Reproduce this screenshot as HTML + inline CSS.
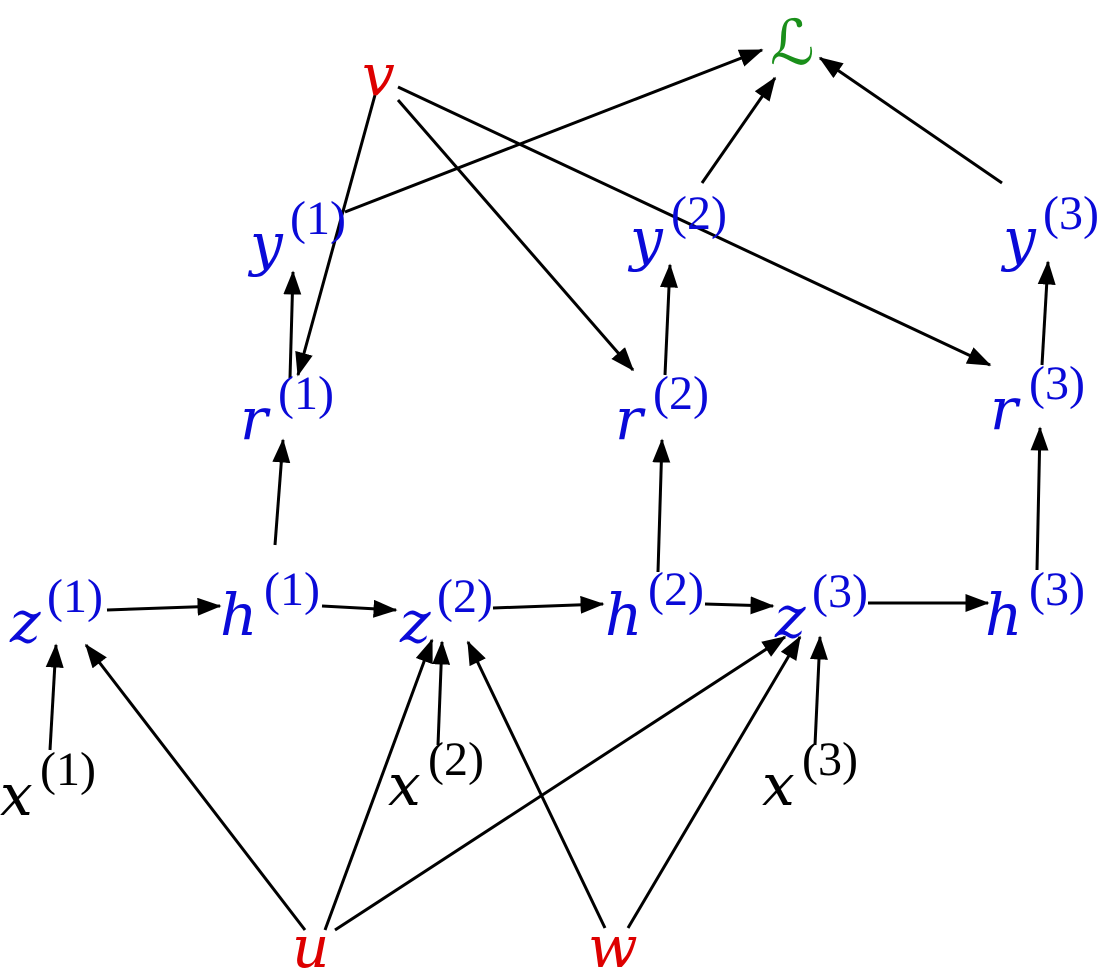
<!DOCTYPE html>
<html><head><meta charset="utf-8"><style>
html,body{margin:0;padding:0;background:#fff;}
svg{display:block;}
.m{font-family:"DejaVu Serif",serif;font-style:italic;font-size:58px;}
.s{font-family:"Liberation Serif",serif;font-size:48px;}
.b{fill:#0a0ad8;} .r{fill:#dd0000;} .k{fill:#000;} .g{fill:#1a8f1a;}
</style></head><body>
<svg width="1099" height="977" viewBox="0 0 1099 977" xmlns="http://www.w3.org/2000/svg">
<defs><marker id="a" markerWidth="8" markerHeight="6" refX="7.5" refY="3" orient="auto" markerUnits="strokeWidth"><path d="M0,0 L8,3 L0,6 Z" fill="#000"/></marker></defs>
<g stroke="#000" stroke-width="3" fill="none" marker-end="url(#a)">
<line x1="375" y1="95" x2="298" y2="375"/>
<line x1="398" y1="100" x2="633" y2="370"/>
<line x1="398" y1="87" x2="990" y2="365"/>
<line x1="345" y1="212" x2="762" y2="50"/>
<line x1="702" y1="183" x2="775" y2="78"/>
<line x1="1002" y1="183" x2="820" y2="58"/>
<line x1="290" y1="378" x2="293" y2="272"/>
<line x1="665" y1="375" x2="670" y2="265"/>
<line x1="1042" y1="365" x2="1048" y2="262"/>
<line x1="275" y1="545" x2="283" y2="440"/>
<line x1="658" y1="572" x2="662" y2="440"/>
<line x1="1037" y1="570" x2="1040" y2="428"/>
<line x1="107" y1="610" x2="220" y2="606"/>
<line x1="322" y1="606" x2="396" y2="610"/>
<line x1="493" y1="608" x2="603" y2="604"/>
<line x1="705" y1="604" x2="773" y2="606"/>
<line x1="868" y1="603" x2="988" y2="603"/>
<line x1="50" y1="750" x2="56" y2="645"/>
<line x1="438" y1="745" x2="442" y2="642"/>
<line x1="815" y1="745" x2="820" y2="637"/>
<line x1="305" y1="930" x2="86" y2="645"/>
<line x1="325" y1="930" x2="432" y2="640"/>
<line x1="335" y1="930" x2="785" y2="637"/>
<line x1="605" y1="928" x2="468" y2="642"/>
<line x1="628" y1="928" x2="800" y2="637"/>
</g>
<text class="m r" x="362" y="95">v</text>
<text class="g" x="770" y="64" style="font-family:'DejaVu Serif',serif;font-size:62px">ℒ</text>
<g class="b">
<text class="m" x="250" y="264">y</text><text class="s" x="290" y="234">(1)</text>
<text class="m" x="630" y="259">y</text><text class="s" x="671" y="229">(2)</text>
<text class="m" x="1003" y="259">y</text><text class="s" x="1043" y="229">(3)</text>
<text class="m" x="240" y="439">r</text><text class="s" x="278" y="409">(1)</text>
<text class="m" x="615" y="439">r</text><text class="s" x="653" y="409">(2)</text>
<text class="m" x="990" y="429">r</text><text class="s" x="1029" y="399">(3)</text>
<text class="m" x="10" y="642">z</text><text class="s" x="47" y="612">(1)</text>
<text class="m" x="220" y="635">h</text><text class="s" x="264" y="605">(1)</text>
<text class="m" x="400" y="642">z</text><text class="s" x="437" y="612">(2)</text>
<text class="m" x="605" y="635">h</text><text class="s" x="648" y="605">(2)</text>
<text class="m" x="775" y="637">z</text><text class="s" x="812" y="607">(3)</text>
<text class="m" x="985" y="635">h</text><text class="s" x="1029" y="605">(3)</text>
</g>
<g class="k">
<text class="m" x="0" y="815">x</text><text class="s" x="40" y="785">(1)</text>
<text class="m" x="388" y="805">x</text><text class="s" x="428" y="775">(2)</text>
<text class="m" x="762" y="805">x</text><text class="s" x="802" y="775">(3)</text>
</g>
<text class="m r" x="292" y="967">u</text>
<text class="m r" x="588" y="967">w</text>
</svg>
</body></html>
